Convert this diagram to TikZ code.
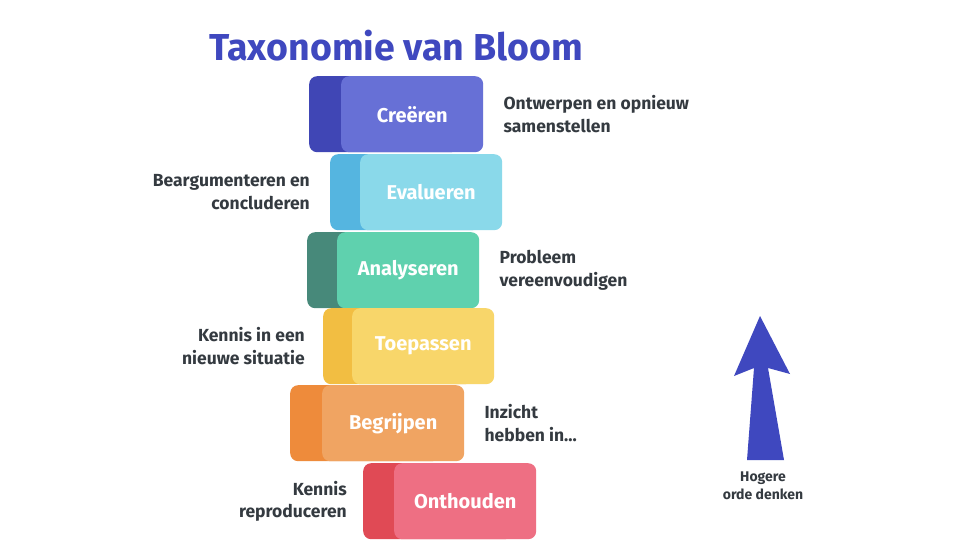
\documentclass[tikz,border=0pt]{standalone}
\usepackage{fontspec}
\setmainfont{Fira Sans}
\usepackage{xcolor}
\usepackage{tikz}
\usetikzlibrary{positioning}

\definecolor{bloomblue}{HTML}{3F48BF}
\definecolor{labelgray}{HTML}{343A40}
\definecolor{creadark}{HTML}{4046B5}
\definecolor{crealight}{HTML}{6770D6}
\definecolor{evaldark}{HTML}{55B5E0}
\definecolor{evallight}{HTML}{8AD9EA}
\definecolor{anadark}{HTML}{47897A}
\definecolor{analight}{HTML}{5FD1AE}
\definecolor{toepdark}{HTML}{F2BE42}
\definecolor{toeplight}{HTML}{F8D66A}
\definecolor{begrdark}{HTML}{EE8B3B}
\definecolor{begrlight}{HTML}{F0A462}
\definecolor{onthdark}{HTML}{E04A55}
\definecolor{onthlight}{HTML}{EE6F83}

\begin{document}
\begin{tikzpicture}[
  x=1pt, y=-1pt,
  backblock/.style={
    rectangle,
    rounded corners=8pt,
    anchor=north west,
    minimum width=150pt,
    minimum height=76pt,
    inner sep=0pt
  },
  level/.style={
    rectangle,
    rounded corners=8pt,
    anchor=north west,
    minimum width=142pt,
    minimum height=76pt,
    inner sep=0pt,
    text=white,
    font=\fontsize{20}{22}\selectfont\bfseries
  },
  note/.style={
    inner sep=0pt,
    text=labelgray,
    font=\fontsize{17.5}{22.5}\selectfont\bfseries
  },
  node distance=20pt
]
\useasboundingbox[fill=white] (0,0) rectangle (960,540);

% title
\node[text=bloomblue, font=\fontsize{37.5}{40}\selectfont\bfseries] (title) at (396,46) {Taxonomie van Bloom};

% the six levels, top to bottom
\node[backblock, fill=creadark] (crea-back) at (309,76) {};
\node[level, fill=crealight] (crea) at (341,76) {Creëren};
\node[backblock, fill=evaldark] (eval-back) at (330,154) {};
\node[level, fill=evallight] (eval) at (360,154) {Evalueren};
\node[backblock, fill=anadark] (ana-back) at (307,232) {};
\node[level, fill=analight] (ana) at (337,232) {Analyseren};
\node[backblock, fill=toepdark] (toep-back) at (323,308) {};
\node[level, fill=toeplight] (toep) at (352,308) {Toepassen};
\node[backblock, fill=begrdark] (begr-back) at (290,385) {};
\node[level, fill=begrlight] (begr) at (322,385) {Begrijpen};
\node[backblock, fill=onthdark] (onth-back) at (363,463) {};
\node[level, fill=onthlight] (onth) at (394,463) {Onthouden};

% side notes
\node[note, align=left, right=of crea] (crea-note) {Ontwerpen en opnieuw\\samenstellen};
\node[note, align=right, left=of eval-back] (eval-note) {Beargumenteren en\\concluderen};
\node[note, align=left, right=of ana] (ana-note) {Probleem\\vereenvoudigen};
\node[note, align=right, left=18pt of toep-back] (toep-note) {Kennis in een\\nieuwe situatie};
\node[note, align=left, right=of begr] (begr-note) {Inzicht\\hebben in...};
\node[note, align=right, left=16pt of onth-back] (onth-note) {Kennis\\reproduceren};

% higher order arrow
\node[note, align=center, font=\fontsize{14}{18}\selectfont\bfseries] (hoger) at (763,486) {Hogere\\orde denken};
\fill[bloomblue] (760,316) -- (790,374) -- (768,368) -- (784,460) -- (747,460)
  -- (754,368) -- (734,376) -- cycle;
\end{tikzpicture}
\end{document}
